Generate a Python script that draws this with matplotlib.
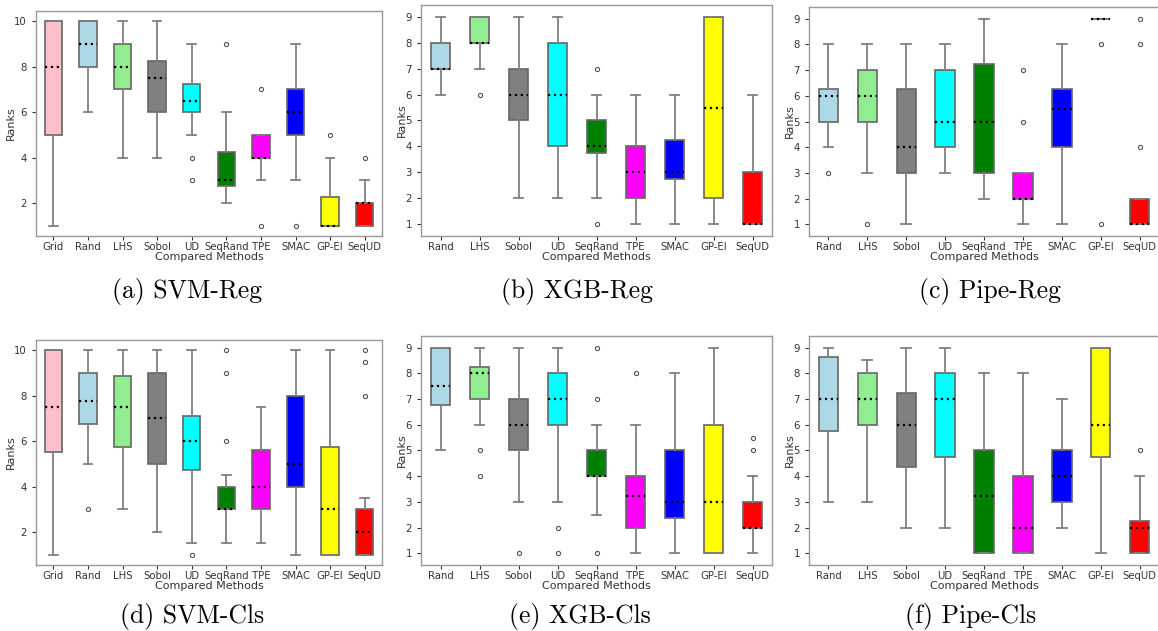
import matplotlib
matplotlib.use("Agg")
import matplotlib.pyplot as plt

# methods compared in each panel
methods_10 = ['Grid', 'Rand', 'LHS', 'Sobol', 'UD', 'SeqRand', 'TPE', 'SMAC', 'GP-EI', 'SeqUD']
methods_9 = methods_10[1:]

colors_10 = ['pink', 'lightblue', 'lightgreen', 'gray', 'cyan', 'green', 'magenta', 'blue', 'yellow', 'red']
colors_9 = colors_10[1:]

# (a) SVM-Reg
svm_reg_med = [8, 9, 8, 7.5, 6.5, 3, 4, 6, 1, 2]
svm_reg_q1 = [5, 8, 7, 6, 6, 2.75, 4, 5, 1, 1]
svm_reg_q3 = [10, 10, 9, 8.25, 7.25, 4.25, 5, 7, 2.25, 2]
svm_reg_lo = [1, 6, 4, 4, 5, 2, 3, 3, 1, 1]
svm_reg_hi = [10, 10, 10, 10, 9, 6, 5, 9, 4, 3]
svm_reg_fl = [[], [], [], [], [4, 3], [9], [7, 1], [1], [5], [4]]

# (b) XGB-Reg
xgb_reg_med = [7, 8, 6, 6, 4, 3, 3, 5.5, 1]
xgb_reg_q1 = [7, 8, 5, 4, 3.75, 2, 2.75, 2, 1]
xgb_reg_q3 = [8, 9, 7, 8, 5, 4, 4.25, 9, 3]
xgb_reg_lo = [6, 7, 2, 2, 2, 1, 1, 1, 1]
xgb_reg_hi = [9, 9, 9, 9, 6, 6, 6, 9, 6]
xgb_reg_fl = [[], [6], [], [], [7, 1], [], [], [], []]

# (c) Pipe-Reg
pipe_reg_med = [6, 6, 4, 5, 5, 2, 5.5, 9, 1]
pipe_reg_q1 = [5, 5, 3, 4, 3, 2, 4, 9, 1]
pipe_reg_q3 = [6.25, 7, 6.25, 7, 7.25, 3, 6.25, 9, 2]
pipe_reg_lo = [4, 3, 1, 3, 2, 1, 1, 9, 1]
pipe_reg_hi = [8, 8, 8, 8, 9, 3, 8, 9, 2]
pipe_reg_fl = [[3], [1], [], [], [], [7, 5], [], [8, 1], [9, 8, 4]]

# (d) SVM-Cls
svm_cls_med = [7.5, 7.75, 7.5, 7, 6, 3, 4, 5, 3, 2]
svm_cls_q1 = [5.5, 6.75, 5.75, 5, 4.75, 3, 3, 4, 1, 1]
svm_cls_q3 = [10, 9, 8.875, 9, 7.125, 4, 5.625, 8, 5.75, 3]
svm_cls_lo = [1, 5, 3, 2, 1.5, 1.5, 1.5, 1, 1, 1]
svm_cls_hi = [10, 10, 10, 10, 10, 4.5, 7.5, 10, 10, 3.5]
svm_cls_fl = [[], [3], [], [], [1], [10, 9, 6], [], [], [], [10, 9.5, 8]]

# (e) XGB-Cls
xgb_cls_med = [7.5, 8, 6, 7, 4, 3.25, 3, 3, 2]
xgb_cls_q1 = [6.75, 7, 5, 6, 4, 2, 2.375, 1, 2]
xgb_cls_q3 = [9, 8.25, 7, 8, 5, 4, 5, 6, 3]
xgb_cls_lo = [5, 6, 3, 3, 2.5, 1, 1, 1, 1]
xgb_cls_hi = [9, 9, 9, 9, 6, 6, 8, 9, 4]
xgb_cls_fl = [[], [5, 4], [1], [2, 1], [9, 7, 1], [8], [], [], [5.5, 5]]

# (f) Pipe-Cls
pipe_cls_med = [7, 7, 6, 7, 3.25, 2, 4, 6, 2]
pipe_cls_q1 = [5.75, 6, 4.375, 4.75, 1, 1, 3, 4.75, 1]
pipe_cls_q3 = [8.625, 8, 7.25, 8, 5, 4, 5, 9, 2.25]
pipe_cls_lo = [3, 3, 2, 2, 1, 1, 2, 1, 1]
pipe_cls_hi = [9, 8.5, 9, 9, 8, 8, 7, 9, 4]
pipe_cls_fl = [[], [], [], [], [], [], [], [], [5]]

captions = ['(a) SVM-Reg', '(b) XGB-Reg', '(c) Pipe-Reg',
            '(d) SVM-Cls', '(e) XGB-Cls', '(f) Pipe-Cls']

panels = [
    (methods_10, colors_10, svm_reg_med, svm_reg_q1, svm_reg_q3, svm_reg_lo, svm_reg_hi, svm_reg_fl),
    (methods_9, colors_9, xgb_reg_med, xgb_reg_q1, xgb_reg_q3, xgb_reg_lo, xgb_reg_hi, xgb_reg_fl),
    (methods_9, colors_9, pipe_reg_med, pipe_reg_q1, pipe_reg_q3, pipe_reg_lo, pipe_reg_hi, pipe_reg_fl),
    (methods_10, colors_10, svm_cls_med, svm_cls_q1, svm_cls_q3, svm_cls_lo, svm_cls_hi, svm_cls_fl),
    (methods_9, colors_9, xgb_cls_med, xgb_cls_q1, xgb_cls_q3, xgb_cls_lo, xgb_cls_hi, xgb_cls_fl),
    (methods_9, colors_9, pipe_cls_med, pipe_cls_q1, pipe_cls_q3, pipe_cls_lo, pipe_cls_hi, pipe_cls_fl),
]

W, H = 1158, 631
fig = plt.figure(figsize=(W / 100, H / 100), dpi=100)

# axes boxes in pixels: left, top, right, bottom
boxes = [(36, 11, 382, 236), (421, 5, 772, 236), (809, 7, 1159, 236),
         (36, 340, 382, 565), (421, 336, 772, 565), (809, 336, 1159, 565)]
cap_pos = [(187, 292), (577, 292), (990, 292), (192, 616), (580, 616), (971, 616)]

for i, (names, cols, med, q1, q3, lo, hi, fl) in enumerate(panels):
    l, t, r, b = boxes[i]
    ax = fig.add_axes([l / W, 1 - b / H, (r - l) / W, (b - t) / H])
    stats = []
    for k in range(len(names)):
        stats.append(dict(med=med[k], q1=q1[k], q3=q3[k], whislo=lo[k], whishi=hi[k],
                          fliers=fl[k], label=names[k]))
    bp = ax.bxp(stats, widths=0.5, patch_artist=True, showfliers=True,
                boxprops=dict(edgecolor='#666666', linewidth=1.2),
                whiskerprops=dict(color='#808080', linewidth=1.3),
                capprops=dict(color='#808080', linewidth=1.3),
                medianprops=dict(color='black', linestyle=':', linewidth=1.6),
                flierprops=dict(marker='o', markersize=3, markerfacecolor='none',
                                markeredgecolor='#555555', markeredgewidth=0.8))
    for patch, c in zip(bp['boxes'], cols):
        patch.set_facecolor(c)
    ax.set_xlim(0.5, len(names) + 0.5)
    ax.set_ylim(0.55, max(hi) + 0.45)
    ax.tick_params(labelsize=7.3, colors='#333333', length=3, width=0.8)
    ax.tick_params(axis='x', pad=1.5)
    for s in ax.spines.values():
        s.set_color('#999999')
        s.set_linewidth(1.0)
    ax.set_xlabel('Compared Methods', fontsize=8, color='#333333', labelpad=0)
    ax.set_ylabel('Ranks', fontsize=8, color='#333333', labelpad=-1)
    x, y = cap_pos[i]
    fig.text(x / W, 1 - y / H, captions[i], fontname='cmr10', fontsize=18.5,
             ha='center', va='center')

fig.savefig('out.png', dpi=100)
